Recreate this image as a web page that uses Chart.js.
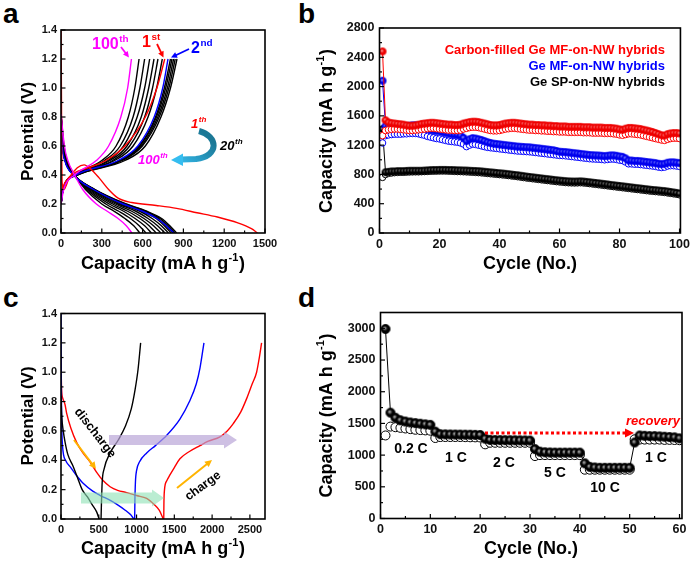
<!DOCTYPE html>
<html>
<head>
<meta charset="utf-8">
<script src="https://cdn.jsdelivr.net/npm/chart.js@4"></script>
<style>
  body { margin: 0; background: #fff; width: 694px; height: 565px; position: relative; overflow: hidden; }
  canvas { position: absolute; }
  .lab { position: absolute; font: bold 28px Arial, "Liberation Sans", sans-serif; line-height: 28px; color: #000; }
</style>
</head>
<body>
<div class="lab" style="left:3px;top:0px">a</div>
<div class="lab" style="left:298px;top:0px">b</div>
<div class="lab" style="left:3px;top:284px">c</div>
<div class="lab" style="left:298px;top:284px">d</div>
<canvas id="chartA"></canvas>
<canvas id="chartB"></canvas>
<canvas id="chartC"></canvas>
<canvas id="chartD"></canvas>
<script>
// ---------- panel a : voltage profiles, cycles 1..100 ----------
const potTicks = [0, 0.2, 0.4, 0.6, 0.8, 1.0, 1.2, 1.4]
const capTicksA = [0, 300, 600, 900, 1200, 1500]

// discharge: capacity reached at each potential level
const disV = [0.82, 0.6, 0.5, 0.4, 0.3, 0.2, 0.15, 0.1, 0.05, 0]
const disQ100 = [0, 25, 50, 100, 160, 260, 340, 420, 480, 522]
const disQ2 = [0, 10, 28, 92, 240, 455, 600, 705, 775, 830]
const disQBlack = [
  [0, 22, 45, 100, 180, 300, 390, 470, 535, 580],
  [0, 20, 42, 100, 190, 330, 425, 510, 575, 625],
  [0, 18, 40, 100, 200, 355, 460, 545, 615, 665],
  [0, 16, 38, 98, 210, 380, 490, 580, 648, 700],
  [0, 15, 36, 97, 220, 400, 520, 610, 680, 735],
  [0, 14, 34, 96, 228, 420, 550, 640, 710, 765],
  [0, 13, 33, 95, 235, 440, 580, 670, 738, 790],
  [0, 12, 32, 95, 240, 455, 600, 700, 760, 810],
  [0, 12, 31, 95, 245, 465, 612, 715, 775, 825],
  [0, 12, 30, 95, 248, 472, 622, 728, 788, 838],
  [0, 12, 30, 95, 250, 480, 630, 740, 800, 850]
]
const dis1 = [[0, 1.4], [3, 1.0], [5, 0.6], [8, 0.35], [20, 0.3], [60, 0.38], [120, 0.45], [170, 0.47],
  [220, 0.44], [280, 0.38], [350, 0.3], [420, 0.24], [520, 0.21], [700, 0.19], [850, 0.17],
  [1000, 0.14], [1150, 0.11], [1300, 0.07], [1400, 0.03], [1445, 0]]

// charge
const chgV = [0.2, 0.3, 0.4, 0.5, 0.6, 0.8, 1.0, 1.2]
const chgQ100 = [0, 20, 100, 260, 350, 440, 490, 518]
const chgQ2 = [0, 15, 110, 420, 565, 685, 748, 787]
const chgQBlack = [
  [0, 15, 100, 300, 405, 495, 543, 574],
  [0, 15, 105, 320, 435, 530, 580, 615],
  [0, 15, 105, 345, 460, 560, 615, 652],
  [0, 15, 110, 360, 485, 590, 645, 684],
  [0, 15, 110, 380, 505, 615, 673, 713],
  [0, 15, 110, 395, 530, 640, 703, 745],
  [0, 15, 115, 430, 575, 695, 760, 805],
  [0, 15, 115, 435, 580, 702, 770, 816],
  [0, 15, 115, 440, 590, 712, 782, 828],
  [0, 15, 120, 450, 598, 722, 793, 840],
  [0, 15, 120, 470, 620, 735, 805, 853]
]
const chg1 = [[0, 0.28], [30, 0.35], [90, 0.41], [200, 0.45], [330, 0.5], [470, 0.6], [620, 0.8], [705, 1.0], [763, 1.2]]

// ---------- panel b : cycling, 100 cycles ----------
const cycleTicksB = [0, 20, 40, 60, 80, 100]
const capTicksB = [0, 400, 800, 1200, 1600, 2000, 2400, 2800]
const cyclesB = Array.from({ length: 100 }, (_, i) => i + 1)
const legendB = ['Carbon-filled Ge MF-on-NW hybrids', 'Ge MF-on-NW hybrids', 'Ge SP-on-NW hybrids']

const redCharge = [
  2480, 1540, 1510, 1500, 1495, 1490, 1485, 1480, 1470, 1465,
  1465, 1470, 1480, 1490, 1495, 1500, 1505, 1505, 1500, 1495,
  1490, 1485, 1480, 1480, 1475, 1475, 1480, 1495, 1505, 1515,
  1520, 1520, 1515, 1505, 1495, 1485, 1475, 1470, 1470, 1475,
  1485, 1495, 1500, 1505, 1505, 1500, 1495, 1490, 1485, 1480,
  1480, 1475, 1475, 1470, 1470, 1465, 1465, 1460, 1460, 1455,
  1455, 1455, 1450, 1450, 1450, 1450, 1450, 1445, 1445, 1445,
  1440, 1440, 1440, 1440, 1435, 1435, 1435, 1430, 1425, 1415,
  1410, 1425, 1435, 1435, 1430, 1425, 1420, 1410, 1400, 1390,
  1380, 1365, 1350, 1335, 1330, 1350, 1360, 1365, 1365, 1360]
const redDischarge = [
  1330, 1400, 1410, 1415, 1420, 1420, 1415, 1410, 1405, 1400,
  1400, 1405, 1410, 1415, 1420, 1425, 1430, 1430, 1425, 1420,
  1415, 1410, 1405, 1405, 1400, 1400, 1405, 1420, 1430, 1440,
  1445, 1445, 1440, 1430, 1420, 1410, 1400, 1395, 1395, 1400,
  1410, 1420, 1425, 1430, 1430, 1425, 1420, 1415, 1410, 1405,
  1405, 1400, 1400, 1395, 1395, 1390, 1390, 1385, 1385, 1380,
  1380, 1380, 1375, 1375, 1375, 1375, 1375, 1370, 1370, 1370,
  1365, 1365, 1365, 1365, 1360, 1360, 1360, 1355, 1350, 1340,
  1335, 1345, 1355, 1355, 1350, 1345, 1340, 1330, 1320, 1310,
  1300, 1290, 1280, 1270, 1265, 1280, 1290, 1295, 1295, 1290]
const blueCharge = [
  2080, 1460, 1455, 1455, 1450, 1450, 1450, 1455, 1460, 1465,
  1470, 1470, 1465, 1455, 1440, 1425, 1410, 1400, 1395, 1390,
  1380, 1370, 1360, 1350, 1345, 1340, 1330, 1300, 1255, 1280,
  1295, 1290, 1280, 1270, 1255, 1240, 1230, 1220, 1215, 1210,
  1205, 1200, 1195, 1190, 1185, 1180, 1178, 1175, 1172, 1170,
  1165, 1160, 1155, 1150, 1145, 1140, 1135, 1130, 1120, 1110,
  1108, 1105, 1100, 1095, 1090, 1085, 1080, 1075, 1070, 1065,
  1062, 1060, 1058, 1055, 1050, 1055, 1060, 1060, 1055, 1045,
  1040, 1020, 990, 990, 985, 985, 980, 975, 970, 965,
  960, 955, 945, 940, 945, 960, 965, 965, 960, 955]
const blueDischarge = [
  1230, 1330, 1340, 1345, 1350, 1350, 1350, 1355, 1355, 1360,
  1360, 1360, 1355, 1345, 1335, 1320, 1310, 1300, 1290, 1285,
  1275, 1265, 1255, 1250, 1245, 1240, 1230, 1215, 1180, 1200,
  1215, 1210, 1200, 1190, 1180, 1170, 1165, 1160, 1155, 1150,
  1145, 1140, 1135, 1130, 1125, 1120, 1118, 1115, 1112, 1110,
  1105, 1100, 1095, 1090, 1085, 1080, 1075, 1070, 1065, 1060,
  1058, 1055, 1050, 1045, 1040, 1035, 1030, 1025, 1020, 1015,
  1012, 1010, 1008, 1005, 1000, 1005, 1010, 1010, 1005, 995,
  990, 970, 945, 945, 940, 940, 935, 930, 925, 920,
  915, 910, 900, 895, 900, 915, 920, 920, 915, 910]
const blackCharge = [
  1420, 830, 835, 840, 840, 845, 845, 845, 848, 850,
  850, 850, 850, 850, 852, 855, 858, 860, 860, 862,
  862, 862, 860, 860, 858, 856, 855, 853, 852, 850,
  848, 846, 844, 840, 836, 832, 828, 824, 820, 816,
  812, 808, 803, 798, 793, 788, 782, 776, 770, 765,
  760, 755, 750, 745, 740, 735, 730, 725, 720, 716,
  712, 708, 705, 703, 702, 703, 705, 702, 698, 693,
  688, 683, 678, 673, 668, 663, 657, 652, 647, 642,
  637, 632, 627, 622, 617, 612, 607, 602, 597, 592,
  588, 584, 580, 576, 572, 566, 560, 554, 548, 540]
const blackDischarge = [
  760, 800, 815, 820, 825, 828, 830, 830, 832, 834,
  835, 836, 836, 838, 840, 842, 844, 845, 846, 847,
  847, 847, 845, 844, 842, 840, 839, 837, 835, 833,
  830, 828, 825, 822, 818, 814, 810, 806, 802, 798,
  794, 790, 785, 780, 775, 770, 764, 758, 752, 747,
  742, 737, 732, 727, 722, 717, 712, 707, 702, 698,
  694, 690, 687, 685, 684, 685, 687, 684, 680, 675,
  670, 665, 660, 655, 650, 645, 639, 634, 629, 624,
  619, 614, 609, 604, 599, 594, 589, 584, 579, 574,
  570, 566, 562, 558, 554, 548, 542, 536, 530, 522]

// ---------- panel c : first-cycle profiles ----------
const capTicksC = [0, 500, 1000, 1500, 2000, 2500]
const cBlackDis = [[0, 0.84], [10, 0.7], [30, 0.6], [55, 0.52], [90, 0.44], [160, 0.36], [220, 0.28], [280, 0.2],
  [350, 0.15], [410, 0.1], [470, 0.05], [505, 0]]
const cBlackChg = [[530, 0], [535, 0.1], [545, 0.25], [570, 0.34], [650, 0.45], [760, 0.54], [850, 0.63],
  [930, 0.75], [980, 0.88], [1020, 1.02], [1054, 1.2]]
const cBlueDis = [[0, 1.4], [3, 1.0], [8, 0.7], [20, 0.5], [60, 0.4], [130, 0.35], [200, 0.3], [300, 0.24],
  [420, 0.19], [520, 0.16], [640, 0.13], [740, 0.1], [850, 0.06], [920, 0.03], [965, 0]]
const cBlueChg = [[975, 0], [978, 0.12], [985, 0.25], [1000, 0.33], [1040, 0.39], [1134, 0.45], [1250, 0.5],
  [1400, 0.57], [1574, 0.68], [1700, 0.8], [1790, 0.92], [1840, 1.03], [1892, 1.2]]
const cRedDis = [[0, 1.12], [3, 1.0], [8, 0.88], [25, 0.82], [53, 0.78], [75, 0.72], [130, 0.62], [208, 0.52],
  [290, 0.45], [384, 0.39], [470, 0.32], [560, 0.26], [650, 0.22], [750, 0.195], [870, 0.18], [1000, 0.16],
  [1134, 0.14], [1230, 0.1], [1300, 0.06], [1354, 0]]
const cRedChg = [[1360, 0], [1362, 0.1], [1370, 0.2], [1400, 0.26], [1442, 0.3], [1500, 0.35], [1574, 0.41],
  [1700, 0.46], [1839, 0.5], [1950, 0.53], [2104, 0.56], [2200, 0.6], [2280, 0.65], [2380, 0.73],
  [2457, 0.82], [2530, 0.92], [2589, 1.0], [2625, 1.1], [2655, 1.2]]

// ---------- panel d : rate capability ----------
const cycleTicksD = [0, 10, 20, 30, 40, 50, 60]
const capTicksD = [0, 500, 1000, 1500, 2000, 2500, 3000]
const cyclesD = Array.from({ length: 60 }, (_, i) => i + 1)
const rateLabels = ['0.2 C', '1 C', '2 C', '5 C', '10 C', '1 C']
const rateCharge = [
  2990, 1670, 1590, 1550, 1530, 1515, 1505, 1495, 1485, 1478,
  1370, 1330, 1328, 1326, 1325, 1324, 1323, 1322, 1320, 1318,
  1260, 1240, 1238, 1237, 1236, 1235, 1234, 1233, 1232, 1230,
  1095, 1055, 1045, 1042, 1040, 1040, 1040, 1040, 1040, 1040,
  870, 815, 805, 800, 800, 800, 800, 800, 800, 800,
  1200, 1310, 1305, 1300, 1300, 1295, 1290, 1285, 1280, 1265]
const rateDischarge = [
  1310, 1450, 1440, 1430, 1420, 1410, 1400, 1395, 1390, 1385,
  1270, 1285, 1285, 1285, 1285, 1285, 1283, 1281, 1280, 1278,
  1170, 1195, 1195, 1195, 1195, 1195, 1195, 1195, 1195, 1195,
  985, 1000, 1000, 1000, 1000, 1000, 1000, 1000, 1000, 1000,
  770, 770, 770, 770, 770, 770, 770, 770, 770, 770,
  1250, 1245, 1245, 1245, 1245, 1245, 1240, 1240, 1238, 1235]

// ---------- helpers ----------
const FONT = 'Arial, "Liberation Sans", sans-serif'
const RED = '#ff0000', BLUE = '#0000ff', MAG = '#ff00ff', BLK = '#000000'

const zipQV = (qs, vs) => qs.map((q, i) => [q, vs[i]])
const zipXY = (xs, ys) => xs.map((x, i) => [x, ys[i]])

function curve(pts, color, w = 1.4) {
  return {
    data: pts.map(([x, y]) => ({ x, y })), showLine: true, borderColor: color, borderWidth: w,
    pointRadius: 0, cubicInterpolationMode: 'monotone', fill: false
  }
}

function ball(r, dark, light) {
  const c = document.createElement('canvas')
  const s = Math.ceil(2 * r + 2)
  c.width = c.height = s
  const g = c.getContext('2d')
  const m = s / 2
  const grad = g.createRadialGradient(m - r * 0.25, m - r * 0.25, 0, m, m, r)
  grad.addColorStop(0, light)
  grad.addColorStop(0.55, dark)
  grad.addColorStop(1, dark)
  g.beginPath()
  g.arc(m, m, r, 0, Math.PI * 2)
  g.fillStyle = grad
  g.fill()
  g.lineWidth = 0.8
  g.strokeStyle = dark
  g.stroke()
  return c
}

function filledSeries(xs, ys, color, img, r) {
  return {
    data: zipXY(xs, ys).map(([x, y]) => ({ x, y })), showLine: true, borderColor: color, borderWidth: 1,
    pointStyle: img, pointRadius: r, fill: false
  }
}
function openSeries(xs, ys, color, r) {
  return {
    data: zipXY(xs, ys).map(([x, y]) => ({ x, y })), showLine: false, pointStyle: 'circle', pointRadius: r,
    pointBackgroundColor: '#fff', pointBorderColor: color, pointBorderWidth: 1
  }
}

function txt(ctx, s, x, y, size, color, italic, align) {
  ctx.font = (italic ? 'italic ' : '') + 'bold ' + size + 'px ' + FONT
  ctx.fillStyle = color
  ctx.textAlign = align || 'left'
  ctx.textBaseline = 'alphabetic'
  ctx.fillText(s, x, y)
  return ctx.measureText(s).width
}
function supTxt(ctx, base, sup, x, y, size, color, italic) {
  const w = txt(ctx, base, x, y, size, color, italic)
  txt(ctx, sup, x + w + 0.5, y - size * 0.45, size * 0.62, color, italic)
}

function arrow(ctx, x1, y1, x2, y2, color, lw, head) {
  const a = Math.atan2(y2 - y1, x2 - x1), c = Math.cos(a), s = Math.sin(a)
  ctx.strokeStyle = color
  ctx.fillStyle = color
  ctx.lineWidth = lw
  ctx.beginPath()
  ctx.moveTo(x1, y1)
  ctx.lineTo(x2 - head * c * 0.8, y2 - head * s * 0.8)
  ctx.stroke()
  ctx.setLineDash([])
  ctx.beginPath()
  ctx.moveTo(x2, y2)
  ctx.lineTo(x2 - head * c + head * 0.5 * s, y2 - head * s - head * 0.5 * c)
  ctx.lineTo(x2 - head * c - head * 0.5 * s, y2 - head * s + head * 0.5 * c)
  ctx.closePath()
  ctx.fill()
}

function bandArrow(ctx, x1, x2, y, half, headHalf, headLen, color) {
  ctx.fillStyle = color
  ctx.beginPath()
  ctx.moveTo(x1, y - half)
  ctx.lineTo(x2 - headLen, y - half)
  ctx.lineTo(x2 - headLen, y - headHalf)
  ctx.lineTo(x2, y)
  ctx.lineTo(x2 - headLen, y + headHalf)
  ctx.lineTo(x2 - headLen, y + half)
  ctx.lineTo(x1, y + half)
  ctx.closePath()
  ctx.fill()
}

function rotTxt(ctx, s, cx, cy, ang, size, color, italic) {
  ctx.save()
  ctx.translate(cx, cy)
  ctx.rotate(ang)
  ctx.font = (italic ? 'italic ' : '') + 'bold ' + size + 'px ' + FONT
  ctx.fillStyle = color
  ctx.textAlign = 'center'
  ctx.textBaseline = 'middle'
  ctx.fillText(s, 0, 0)
  ctx.restore()
}

// axis title "Capacity (mA h g-1)" with a real superscript
function capTitle(ctx, cx, cy, vertical) {
  const size = 18
  ctx.save()
  ctx.translate(cx, cy)
  if (vertical) ctx.rotate(-Math.PI / 2)
  ctx.font = 'bold ' + size + 'px ' + FONT
  const w1 = ctx.measureText('Capacity (mA h g').width
  const w3 = ctx.measureText(')').width
  ctx.font = 'bold 11px ' + FONT
  const w2 = ctx.measureText('-1').width
  let x = -(w1 + w2 + w3 + 1) / 2
  const base = size * 0.36
  txt(ctx, 'Capacity (mA h g', x, base, size, '#000')
  txt(ctx, '-1', x + w1 + 0.5, base - 8, 11, '#000')
  txt(ctx, ')', x + w1 + w2 + 1, base, size, '#000')
  ctx.restore()
}
function plainTitle(ctx, s, cx, cy, vertical, size) {
  ctx.save()
  ctx.translate(cx, cy)
  if (vertical) ctx.rotate(-Math.PI / 2)
  txt(ctx, s, 0, size * 0.36, size, '#000', false, 'center')
  ctx.restore()
}

// frame with inward major + minor ticks on the left and bottom
const framePlugin = {
  id: 'frame',
  afterDraw(chart) {
    const { ctx, chartArea: a, scales: { x, y } } = chart
    ctx.save()
    ctx.strokeStyle = '#000'
    ctx.lineWidth = 1.6
    ctx.strokeRect(a.left, a.top, a.right - a.left, a.bottom - a.top)
    ctx.lineWidth = 1.2
    const mark = (axis, v, len) => {
      const p = axis.getPixelForValue(v)
      ctx.beginPath()
      if (axis === x) { ctx.moveTo(p, a.bottom); ctx.lineTo(p, a.bottom - len) }
      else { ctx.moveTo(a.left, p); ctx.lineTo(a.left + len, p) }
      ctx.stroke()
    }
    for (const axis of [x, y]) {
      const vals = axis.ticks.map(t => t.value)
      vals.forEach((v, i) => {
        mark(axis, v, 4.5)
        if (i > 0) mark(axis, (v + vals[i - 1]) / 2, 2.5)
      })
    }
    ctx.restore()
  }
}

function axisCfg(ticks, min, max, fmt, size, isX, fontSize, pad) {
  return {
    type: 'linear', min, max,
    grid: { display: false, drawTicks: false },
    border: { display: false },
    ticks: {
      color: '#111', padding: pad, autoSkip: false, maxRotation: 0,
      font: { family: FONT, size: fontSize, weight: 'bold' },
      callback: fmt
    },
    afterBuildTicks: s => { s.ticks = ticks.map(v => ({ value: v })) },
    afterFit: s => { if (isX) s.height = size; else s.width = size }
  }
}

function makeChart(id, box, area, xAxis, yAxis, datasets, notes) {
  const cv = document.getElementById(id)
  cv.width = box.w
  cv.height = box.h
  cv.style.left = box.x + 'px'
  cv.style.top = box.y + 'px'
  const xa = axisCfg(xAxis.ticks, xAxis.min, xAxis.max, xAxis.fmt, box.y + box.h - area.b, true, xAxis.font, xAxis.pad)
  const ya = axisCfg(yAxis.ticks, yAxis.min, yAxis.max, yAxis.fmt, area.l - box.x, false, yAxis.font, yAxis.pad)
  return new Chart(cv, {
    type: 'scatter',
    data: { datasets },
    options: {
      responsive: false, animation: false, events: [],
      layout: { padding: { top: area.t - box.y, right: box.x + box.w - area.r, left: 0, bottom: 0 } },
      plugins: { legend: { display: false }, tooltip: { enabled: false } },
      scales: { x: xa, y: ya }
    },
    plugins: [framePlugin, {
      id: 'notes',
      afterDraw(chart) {
        const ctx = chart.ctx
        ctx.save()
        ctx.translate(-box.x, -box.y)
        notes(ctx, chart)
        ctx.restore()
      }
    }]
  })
}

const fmt1 = v => v.toFixed(1)
const fmt0 = v => String(v)

// ---------- panel a ----------
const dsA = [
  curve(zipQV(disQ100, disV), MAG), curve(zipQV(chgQ100, chgV), MAG),
  curve(dis1, RED), curve(chg1, RED),
  curve(zipQV(disQ2, disV), BLUE), curve(zipQV(chgQ2, chgV), BLUE),
  ...disQBlack.map(q => curve(zipQV(q, disV), BLK)),
  ...chgQBlack.map(q => curve(zipQV(q, chgV), BLK))
]
makeChart('chartA', { x: 0, y: 0, w: 300, h: 282 }, { l: 61, t: 30, r: 265, b: 233 },
  { ticks: capTicksA, min: 0, max: 1500, fmt: fmt0, font: 11, pad: 4 },
  { ticks: potTicks, min: 0, max: 1.4, fmt: fmt1, font: 11, pad: 4 },
  dsA, ctx => {
    plainTitle(ctx, 'Potential (V)', 27, 131.5, true, 17)
    capTitle(ctx, 163, 263, false)
    supTxt(ctx, '100', 'th', 92, 49, 16, MAG)
    arrow(ctx, 121, 47, 129, 57.5, MAG, 1.8, 6)
    supTxt(ctx, '1', 'st', 142, 47, 16, RED)
    arrow(ctx, 157, 44, 163.5, 57.5, RED, 1.8, 6)
    supTxt(ctx, '2', 'nd', 191, 53, 16, BLUE)
    arrow(ctx, 189, 49, 171, 57.5, BLUE, 1.8, 6)
    supTxt(ctx, '1', 'th', 191, 128, 13, RED, true)
    supTxt(ctx, '20', 'th', 220, 150, 13, BLK, true)
    supTxt(ctx, '100', 'th', 138, 164, 13, MAG, true)
    // curved cycling arrow
    const g = ctx.createLinearGradient(200, 130, 172, 160)
    g.addColorStop(0, '#1b7896')
    g.addColorStop(1, '#35bdf0')
    ctx.strokeStyle = g
    ctx.lineWidth = 6
    ctx.beginPath()
    ctx.moveTo(199, 131)
    ctx.bezierCurveTo(218, 136, 220, 156, 196, 159)
    ctx.lineTo(182, 159.5)
    ctx.stroke()
    ctx.fillStyle = '#35bdf0'
    ctx.beginPath()
    ctx.moveTo(171, 160)
    ctx.lineTo(183, 153.5)
    ctx.lineTo(183, 166)
    ctx.closePath()
    ctx.fill()
  })

// ---------- panel b ----------
const redBall = ball(3.6, '#ee0000', '#ffb0b0')
const blueBall = ball(3.6, '#0000ee', '#a0a8ff')
const blackBall = ball(3.6, '#000000', '#bbbbbb')
const dsB = [
  filledSeries(cyclesB, redCharge, RED, redBall, 3.6), openSeries(cyclesB, redDischarge, RED, 3.3),
  filledSeries(cyclesB, blueCharge, BLUE, blueBall, 3.6), openSeries(cyclesB, blueDischarge, BLUE, 3.3),
  filledSeries(cyclesB, blackCharge, BLK, blackBall, 3.6), openSeries(cyclesB, blackDischarge, BLK, 3.3)
]
makeChart('chartB', { x: 300, y: 0, w: 394, h: 282 }, { l: 379.5, t: 28, r: 681.5, b: 233 },
  { ticks: cycleTicksB, min: 0, max: 100.3, fmt: fmt0, font: 12.5, pad: 4 },
  { ticks: capTicksB, min: 0, max: 2800, fmt: fmt0, font: 12.5, pad: 5 },
  dsB, ctx => {
    capTitle(ctx, 326, 131, true)
    plainTitle(ctx, 'Cycle (No.)', 530, 263, false, 18)
    txt(ctx, legendB[0], 665, 54, 13, RED, false, 'right')
    txt(ctx, legendB[1], 665, 70, 13, BLUE, false, 'right')
    txt(ctx, legendB[2], 665, 86, 13, BLK, false, 'right')
  })

// ---------- panel c ----------
const dsC = [
  curve(cBlackDis, BLK), curve(cBlackChg, BLK),
  curve(cBlueDis, BLUE), curve(cBlueChg, BLUE),
  curve(cRedDis, RED), curve(cRedChg, RED)
]
makeChart('chartC', { x: 0, y: 282, w: 300, h: 283 }, { l: 61, t: 313.5, r: 265, b: 519 },
  { ticks: capTicksC, min: 0, max: 2700, fmt: fmt0, font: 11, pad: 4 },
  { ticks: potTicks, min: 0, max: 1.4, fmt: fmt1, font: 11, pad: 4 },
  dsC, ctx => {
    plainTitle(ctx, 'Potential (V)', 27, 416, true, 17)
    capTitle(ctx, 163, 548, false)
    bandArrow(ctx, 109, 237, 440, 5, 8.5, 13, 'rgba(185,165,215,0.7)')
    bandArrow(ctx, 81, 164, 498, 5.5, 8.5, 12, 'rgba(140,225,180,0.6)')
    arrow(ctx, 74, 440, 96, 469, '#ffb400', 2, 7)
    arrow(ctx, 177, 488, 212, 460, '#ffb400', 2, 7)
    rotTxt(ctx, 'discharge', 95, 433, 52 * Math.PI / 180, 12.5, BLK, false)
    rotTxt(ctx, 'charge', 203, 486, -36 * Math.PI / 180, 12.5, BLK, false)
  })

// ---------- panel d ----------
const dBall = ball(4.6, '#000000', '#c8c8c8')
const dsD = [
  filledSeries(cyclesD, rateCharge, BLK, dBall, 4.6),
  openSeries(cyclesD, rateDischarge, BLK, 4.5)
]
makeChart('chartD', { x: 300, y: 282, w: 394, h: 283 }, { l: 380.5, t: 312.5, r: 682, b: 518.5 },
  { ticks: cycleTicksD, min: 0, max: 60.5, fmt: fmt0, font: 12.5, pad: 4 },
  { ticks: capTicksD, min: 0, max: 3250, fmt: fmt0, font: 12.5, pad: 5 },
  dsD, ctx => {
    capTitle(ctx, 326, 415.5, true)
    plainTitle(ctx, 'Cycle (No.)', 531, 548, false, 18)
    const spots = [[411, 453], [456, 462], [504, 467], [555, 477], [605, 492], [656, 462]]
    rateLabels.forEach((s, i) => txt(ctx, s, spots[i][0], spots[i][1], 14, BLK, false, 'center'))
    ctx.save()
    ctx.setLineDash([3, 2.5])
    arrow(ctx, 485, 433, 634, 433, RED, 3, 9)
    ctx.restore()
    txt(ctx, 'recovery', 653, 425, 13, RED, true, 'center')
  })
</script>
</body>
</html>
